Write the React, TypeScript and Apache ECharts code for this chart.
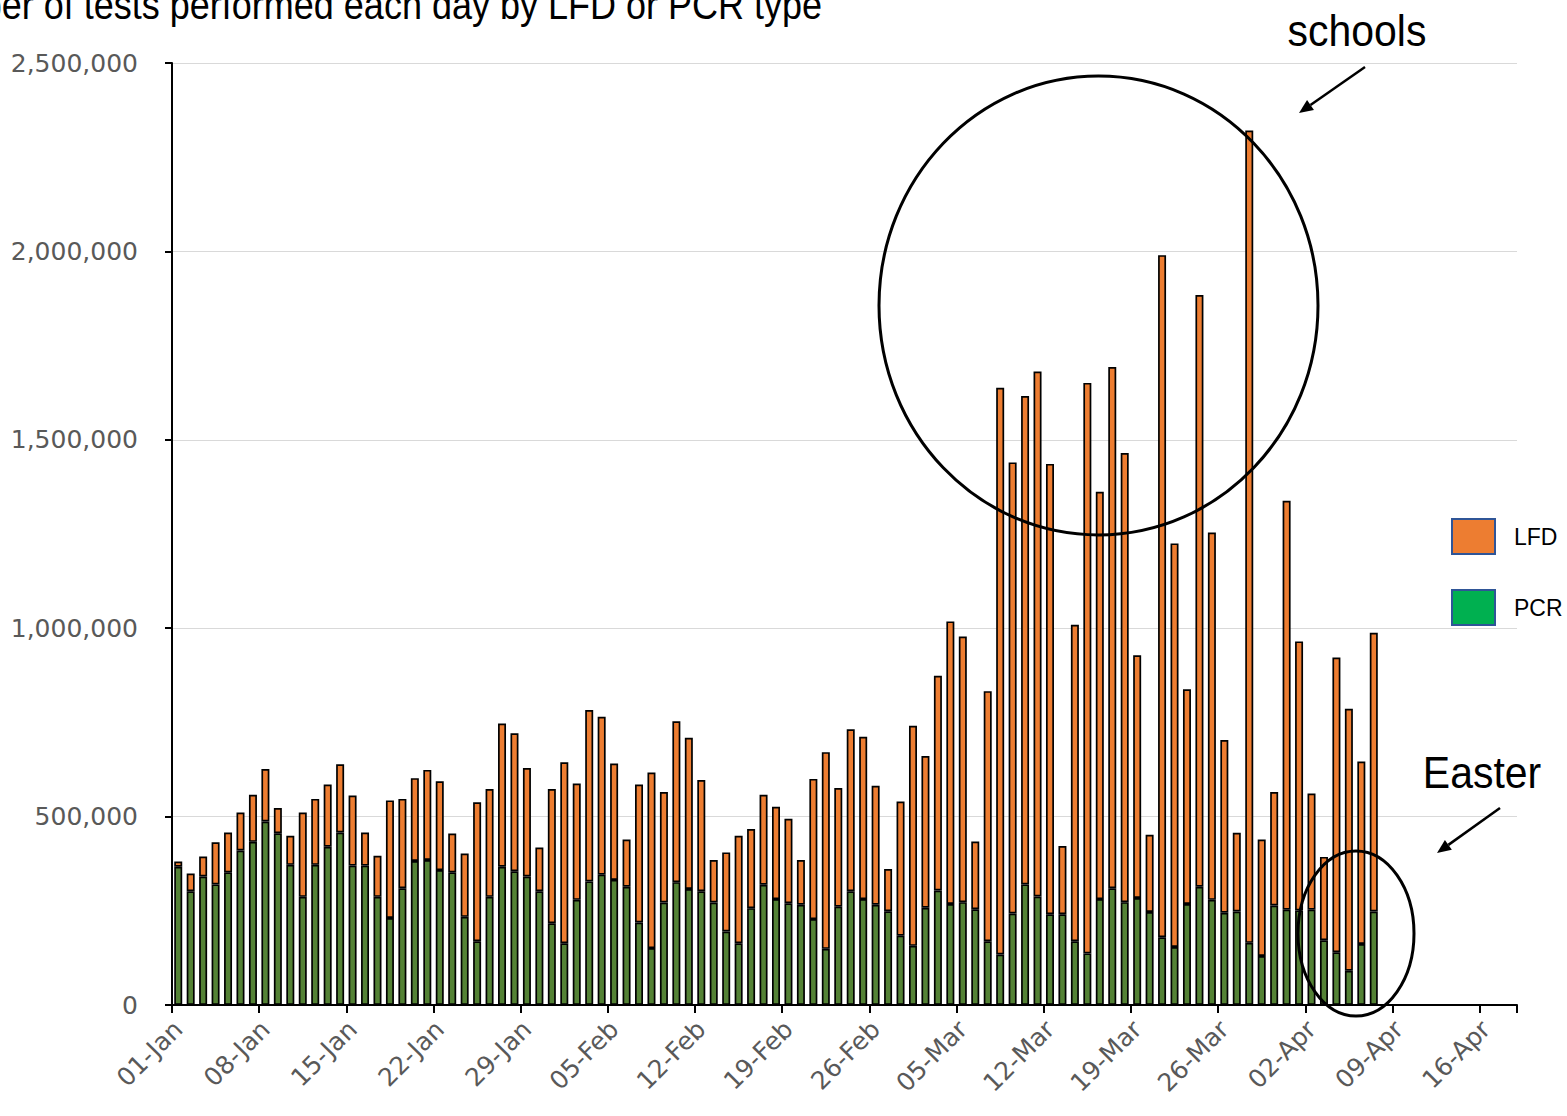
import React, { useEffect, useRef } from 'react';
import * as echarts from 'echarts';

// Day 0 = 01-Jan; one bar per day up to 07-Apr; axis runs to 18-Apr
const tickLabels = ['01-Jan', '08-Jan', '15-Jan', '22-Jan', '29-Jan', '05-Feb', '12-Feb', '19-Feb', '26-Feb', '05-Mar', '12-Mar', '19-Mar', '26-Mar', '02-Apr', '09-Apr', '16-Apr'];
const daysOnAxis = 108;
const monthNames = ['Jan', 'Feb', 'Mar', 'Apr'];
const monthLengths = [31, 28, 31, 30];

const pcrTests = [
  367000, 302000, 341000, 320000, 352000, 410000, 433000, 487000, 456000, 372000,
  287000, 372000, 420000, 458000, 370000, 370000, 287000, 231000, 310000, 382000,
  385000, 358000, 352000, 234000, 169000, 287000, 367000, 355000, 341000, 302000,
  217000, 164000, 279000, 328000, 346000, 332000, 314000, 219000, 151000, 272000,
  326000, 308000, 302000, 272000, 195000, 164000, 257000, 319000, 281000, 270000,
  266000, 228000, 149000, 261000, 302000, 281000, 266000, 249000, 184000, 157000,
  258000, 304000, 268000, 273000, 254000, 169000, 134000, 243000, 320000, 288000,
  241000, 241000, 169000, 137000, 281000, 310000, 273000, 284000, 247000, 180000,
  154000, 268000, 314000, 279000, 245000, 248000, 165000, 130000, 264000, 253000,
  251000, 253000, 172000, 140000, 91000, 162000, 248000,
];

const lfdTests = [
  14000, 47000, 53000, 112000, 106000, 101000, 125000, 139000, 67000, 77000,
  224000, 175000, 165000, 181000, 186000, 88000, 109000, 312000, 237000, 220000,
  239000, 236000, 103000, 168000, 369000, 286000, 380000, 366000, 288000, 116000,
  356000, 480000, 309000, 455000, 419000, 309000, 125000, 366000, 466000, 293000,
  427000, 401000, 295000, 113000, 210000, 285000, 210000, 239000, 245000, 224000,
  119000, 372000, 522000, 315000, 430000, 431000, 316000, 112000, 356000, 584000,
  403000, 570000, 750000, 705000, 180000, 664000, 1504000, 1197000, 1296000, 1393000,
  1195000, 181000, 840000, 1514000, 1081000, 1383000, 1192000, 644000, 205000, 1810000,
  1071000, 570000, 1570000, 975000, 458000, 209000, 2156000, 309000, 301000, 1085000,
  714000, 308000, 221000, 782000, 695000, 484000, 740000,
];

const titleText = 'Number of tests performed each day by LFD or PCR type';
const annotationSchools = 'schools';
const annotationEaster = 'Easter';

const AXIS_FONT = 'DejaVu Sans';
const TEXT_FONT = 'Liberation Sans';

function buildDayLabels(): string[] {
  const out: string[] = [];
  for (let m = 0; m < monthNames.length && out.length < daysOnAxis; m++) {
    for (let d = 1; d <= monthLengths[m] && out.length < daysOnAxis; d++) {
      out.push(String(d).padStart(2, '0') + '-' + monthNames[m]);
    }
  }
  return out;
}

function arrow(x1: number, y1: number, x2: number, y2: number) {
  const dx = x2 - x1;
  const dy = y2 - y1;
  const len = Math.sqrt(dx * dx + dy * dy);
  const ux = dx / len;
  const uy = dy / len;
  const headLen = 14;
  const headHalf = 6;
  const bx = x2 - ux * headLen;
  const by = y2 - uy * headLen;
  const px = -uy;
  const py = ux;
  return [
    {
      type: 'line',
      z: 100,
      shape: { x1, y1, x2: bx, y2: by },
      style: { stroke: '#000', lineWidth: 2.5 },
    },
    {
      type: 'polygon',
      z: 100,
      shape: {
        points: [
          [x2, y2],
          [bx + px * headHalf, by + py * headHalf],
          [bx - px * headHalf, by - py * headHalf],
        ],
      },
      style: { fill: '#000' },
    },
  ];
}

export default function App() {
  const ref = useRef<HTMLDivElement>(null);

  useEffect(() => {
    if (!ref.current) return;
    const chart = echarts.init(ref.current, null, { renderer: 'svg' });
    const days = buildDayLabels();
    const showEvery7 = (index: number) => index % 7 === 0;

    chart.setOption({
      animation: false,
      backgroundColor: '#ffffff',
      grid: { left: 172, top: 63, right: 50, bottom: 111, containLabel: false },
      legend: {
        orient: 'vertical',
        left: 1446,
        top: 513,
        itemWidth: 43,
        itemHeight: 35,
        itemGap: 34,
        icon: 'rect',
        selectedMode: false,
        textStyle: { fontSize: 23, color: '#000', fontFamily: TEXT_FONT, padding: [0, 0, 0, 14] },
        data: [
          { name: 'LFD', itemStyle: { color: '#ED7D31', borderColor: '#2F5597', borderWidth: 2 } },
          { name: 'PCR', itemStyle: { color: '#00B050', borderColor: '#2F5597', borderWidth: 2 } },
        ],
      },
      xAxis: {
        type: 'category',
        data: days,
        boundaryGap: true,
        axisLine: { show: true, lineStyle: { color: '#000', width: 2 } },
        axisTick: {
          show: true,
          interval: showEvery7,
          alignWithLabel: false,
          length: 8,
          lineStyle: { color: '#000', width: 2 },
        },
        axisLabel: {
          interval: showEvery7,
          formatter: (v: string) => (tickLabels.includes(v) ? v : ''),
          rotate: 45,
          margin: 20,
          fontSize: 25,
          color: '#595959',
          fontFamily: AXIS_FONT,
        },
        splitLine: { show: false },
      },
      yAxis: {
        type: 'value',
        min: 0,
        max: 2500000,
        interval: 500000,
        axisLine: { show: true, lineStyle: { color: '#000', width: 2 } },
        axisTick: { show: true, length: 7, lineStyle: { color: '#000', width: 2 } },
        axisLabel: {
          margin: 34,
          fontSize: 25,
          color: '#595959',
          fontFamily: AXIS_FONT,
          formatter: (v: number) => v.toLocaleString('en-US'),
        },
        splitLine: { show: true, lineStyle: { color: '#D9D9D9', width: 1 } },
      },
      series: [
        {
          name: 'PCR',
          type: 'bar',
          stack: 'tests',
          barWidth: 8,
          itemStyle: { color: '#548235', borderColor: '#000', borderWidth: 1.7 },
          data: pcrTests,
        },
        {
          name: 'LFD',
          type: 'bar',
          stack: 'tests',
          barWidth: 8,
          itemStyle: { color: '#ED7D31', borderColor: '#000', borderWidth: 1.7 },
          data: lfdTests,
        },
      ],
      graphic: [
        {
          type: 'text',
          x: 822,
          y: 5,
          scaleX: 0.9,
          z: 100,
          style: {
            text: titleText,
            fontSize: 40,
            fontFamily: TEXT_FONT,
            fill: '#000',
            textAlign: 'right',
            textVerticalAlign: 'middle',
          },
        },
        {
          type: 'text',
          x: 1357,
          y: 30,
          scaleX: 0.91,
          z: 100,
          style: {
            text: annotationSchools,
            fontSize: 45,
            fontFamily: TEXT_FONT,
            fill: '#000',
            textAlign: 'center',
            textVerticalAlign: 'middle',
          },
        },
        {
          type: 'text',
          x: 1482,
          y: 772,
          scaleX: 0.91,
          z: 100,
          style: {
            text: annotationEaster,
            fontSize: 45,
            fontFamily: TEXT_FONT,
            fill: '#000',
            textAlign: 'center',
            textVerticalAlign: 'middle',
          },
        },
        {
          type: 'ellipse',
          z: 100,
          shape: { cx: 1098.5, cy: 305.5, rx: 219.5, ry: 229.5 },
          style: { fill: 'none', stroke: '#000', lineWidth: 3 },
        },
        {
          type: 'ellipse',
          z: 100,
          shape: { cx: 1356, cy: 933.5, rx: 58, ry: 82.5 },
          style: { fill: 'none', stroke: '#000', lineWidth: 3 },
        },
        ...arrow(1365, 67, 1299, 113),
        ...arrow(1500, 808, 1437, 853),
      ],
    });

    return () => chart.dispose();
  }, []);

  return (
    <div
      ref={ref}
      style={{ position: 'fixed', left: 0, top: 0, width: 1567, height: 1116, background: '#fff' }}
    />
  );
}
